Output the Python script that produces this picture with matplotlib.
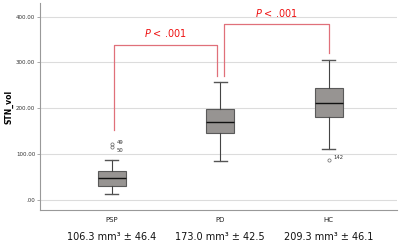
import matplotlib.pyplot as plt

groups = ["PSP", "PD", "HC"]
whislo = [12, 85, 112]
q1 = [31, 146, 182]
med = [47, 169, 211]
q3 = [63, 199, 244]
whishi = [87, 257, 306]
fliers = [[122, 115], [], [87]]
flier_ids = [["49", "50"], [], ["142"]]
summary = ["106.3 mm³ ± 46.4", "173.0 mm³ ± 42.5", "209.3 mm³ ± 46.1"]
yticks = [0, 100, 200, 300, 400]
ytick_labels = [".00", "100.00", "200.00", "300.00", "400.00"]

# brackets: (x0, x1, y_left_bottom, y_right_bottom, y_top)
brackets = [(0.02, 0.97, 153, 270, 339), (1.04, 2.0, 270, 320, 384)]

fig = plt.figure(figsize=(4, 2.47), dpi=100)
ax = fig.add_axes([0.1, 0.15, 0.8925, 0.838])

stats = []
for i in range(3):
    stats.append(dict(whislo=whislo[i], q1=q1[i], med=med[i], q3=q3[i],
                      whishi=whishi[i], fliers=fliers[i], label=groups[i]))

ax.bxp(stats, positions=[0, 1, 2], widths=0.26, patch_artist=True,
       boxprops=dict(facecolor="#979492", edgecolor="#5a5a5a", linewidth=0.8),
       medianprops=dict(color="#111111", linewidth=1.0),
       whiskerprops=dict(color="#444444", linewidth=0.8),
       capprops=dict(color="#555555", linewidth=1.0),
       capwidths=0.12,
       flierprops=dict(marker="o", markersize=2.3, markerfacecolor="none",
                       markeredgecolor="#666666", markeredgewidth=0.5))

for i in range(3):
    offs = [3, -8] if len(fliers[i]) > 1 else [5]
    for v, lab, o in zip(fliers[i], flier_ids[i], offs):
        ax.text(i + 0.045, v + o, lab, fontsize=3.8, color="#333333",
                ha="left", va="center")

for x0, x1, yl, yr, yt in brackets:
    ax.plot([x0, x0, x1, x1], [yl, yt, yt, yr], color="#e0707a", linewidth=0.9)
    ax.text((x0 + x1) / 2, yt + 12, "$P$ < .001", color="#ee1111",
            fontsize=7, ha="center", va="bottom")

ax.set_xlim(-0.66, 2.63)
ax.set_ylim(-22, 430)
ax.set_yticks(yticks)
ax.set_yticklabels(ytick_labels, fontsize=4, color="#333333")
ax.yaxis.grid(True, color="#dcdcdc", linewidth=0.8)
ax.set_axisbelow(True)
ax.set_xticks([0, 1, 2])
ax.set_xticklabels(groups, fontsize=5, color="#222222")
ax.tick_params(axis="x", length=0, pad=5)
ax.tick_params(axis="y", length=2, width=0.5, color="#888888", pad=1.5)
ax.set_ylabel("STN_vol", fontsize=5.5, fontweight="bold", labelpad=2)
for s in ["top", "right"]:
    ax.spines[s].set_visible(False)
for s in ["left", "bottom"]:
    ax.spines[s].set_color("#999999")
    ax.spines[s].set_linewidth(0.8)

for i, t in enumerate(summary):
    ax.text(i, -0.13, t, transform=ax.get_xaxis_transform(), fontsize=7,
            ha="center", va="center", color="#111111")

fig.savefig("out.png", dpi=100, facecolor="white")
